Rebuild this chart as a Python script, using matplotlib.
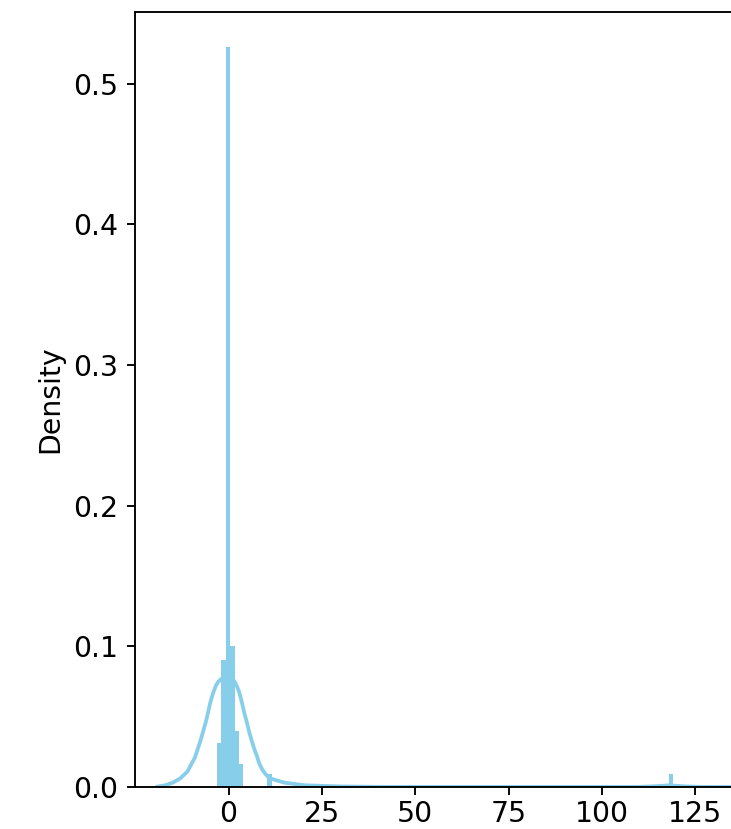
import numpy as np
import matplotlib
matplotlib.use("Agg")
import matplotlib.pyplot as plt

plt.rcParams["font.size"] = 12

# histogram (density): bin left edges, width, heights
bin_left = [-3.2, -2.0, -0.8, 0.4, 1.6, 2.8, 10.4, 117.9]
bin_width = 1.2
bin_density = [0.031, 0.090, 0.526, 0.100, 0.040, 0.016, 0.009, 0.009]

# kde curve points
kde_x = [-19.0, -17.0, -15.0, -13.0, -11.0, -9.0, -7.5, -6.0, -4.8, -4.1, -3.4,
         -2.7, -2.0, -1.3, -0.6, 0.1, 0.8, 1.5, 2.2, 2.9, 3.5, 4.2, 4.9, 5.5,
         6.2, 6.9, 7.6, 8.2, 8.9, 9.8, 10.7, 11.6, 12.5, 15.1, 20.5, 30.0,
         40.0, 110.0, 114.0, 118.0, 122.0, 126.0, 134.9]
kde_y = [0.0003, 0.0012, 0.003, 0.006, 0.011, 0.021, 0.033, 0.047, 0.061, 0.067,
         0.072, 0.075, 0.0768, 0.0778, 0.078, 0.0778, 0.0768, 0.0755, 0.072,
         0.067, 0.061, 0.053, 0.046, 0.0395, 0.033, 0.027, 0.022, 0.017, 0.013,
         0.0095, 0.007, 0.0058, 0.005, 0.003, 0.0012, 0.0004, 0.0001, 0.0001,
         0.0005, 0.0012, 0.0005, 0.0001, 0.0]

x_ticks = [0, 25, 50, 75, 100, 125]
y_ticks = [0.0, 0.1, 0.2, 0.3, 0.4, 0.5]

color = "skyblue"

fig = plt.figure(figsize=(731 / 170, 829 / 170), dpi=170)
# axes runs past the right edge (reference is cropped there)
ax = fig.add_axes([135 / 731, 1 - 787 / 829, 620 / 731, (787 - 12) / 829])

ax.bar(bin_left, bin_density, width=bin_width, align="edge",
       color=color, edgecolor="none", linewidth=0)
ax.plot(kde_x, kde_y, color=color, linewidth=1.6)

ax.set_xlim(-25.05, 141.0)
ax.set_ylim(0, 0.5511)
ax.set_xticks(x_ticks)
ax.set_yticks(y_ticks)
ax.tick_params(axis="x", pad=2)
ax.set_ylabel("Density", labelpad=4)

fig.savefig("out.png", dpi=170)
